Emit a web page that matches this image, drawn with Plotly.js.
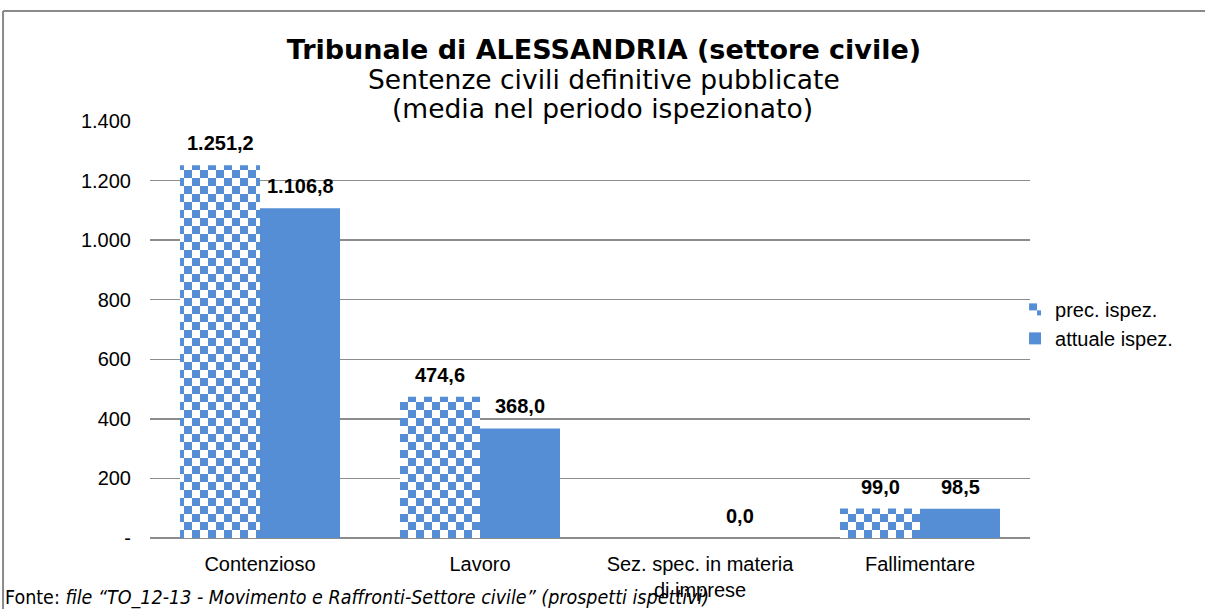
<!DOCTYPE html>
<html>
<head>
<meta charset="utf-8">
<script src="https://cdn.plot.ly/plotly-3.0.1.min.js"></script>
<style>
  html, body { margin: 0; padding: 0; background: #ffffff; }
  #chart { width: 1205px; height: 609px; }
</style>
</head>
<body>
<div id="chart"></div>
<script>
// ---- data ----
const categories = ['Contenzioso', 'Lavoro', 'Sez. spec. in materia<br>di imprese', 'Fallimentare'];
const seriesNames = ['prec. ispez.', 'attuale ispez.'];
const precIspez = [1251.2, 474.6, null, 99.0];
const attualeIspez = [1106.8, 368.0, 0.0, 98.5];
const yTickVals = [0, 200, 400, 600, 800, 1000, 1200, 1400];
const titleLine = 'Tribunale di ALESSANDRIA (settore civile)';
const subtitleLines = ['Sentenze civili definitive pubblicate', '(media nel periodo ispezionato)'];
const sourceText = 'Fonte: <i>file \u201cTO_12-13 - Movimento e Raffronti-Settore civile\u201d (prospetti ispettivi)</i>';

// ---- helpers ----
function fmtIt(v, dec) {
  const s = v.toFixed(dec);
  const parts = s.split('.');
  const intPart = parts[0].replace(/\B(?=(\d{3})+(?!\d))/g, '.');
  return dec > 0 ? intPart + ',' + parts[1] : intPart;
}
const yTickText = yTickVals.map(v => v === 0 ? '-' : fmtIt(v, 0));

const BLUE = '#558ED5';
const GRID = '#8c8c8c';
const ARIAL = 'Liberation Sans, Arial, sans-serif';
const VERDANA = 'DejaVu Sans, Verdana, sans-serif';

const traces = [
  {
    type: 'bar', name: seriesNames[0], x: categories, y: precIspez,
    marker: { color: BLUE, line: { width: 0 } }, hoverinfo: 'none'
  },
  {
    type: 'bar', name: seriesNames[1], x: categories, y: attualeIspez,
    marker: { color: BLUE, line: { width: 0 } }, hoverinfo: 'none'
  }
];

const annotations = [];
[precIspez, attualeIspez].forEach((arr, s) => {
  arr.forEach((v, i) => {
    if (v === null || v === undefined) return;
    annotations.push({
      x: categories[i], y: v, xref: 'x', yref: 'y',
      xshift: s === 0 ? -40 : 40, yshift: 22, yanchor: 'middle', xanchor: 'center',
      text: '<b>' + fmtIt(v, 1) + '</b>', showarrow: false,
      font: { family: ARIAL, size: 20, color: '#000000' }
    });
  });
});
// subtitle lines
annotations.push({
  xref: 'paper', yref: 'paper', x: 0.516, y: 1.1007, xanchor: 'center', yanchor: 'middle',
  text: subtitleLines[0], showarrow: false,
  font: { family: VERDANA, size: 26.5, color: '#000000' }
});
annotations.push({
  xref: 'paper', yref: 'paper', x: 0.514, y: 1.0288, xanchor: 'center', yanchor: 'middle',
  text: subtitleLines[1], showarrow: false,
  font: { family: VERDANA, size: 26.5, color: '#000000' }
});
annotations.push({
  xref: 'paper', yref: 'paper', x: -0.167, y: -0.142, xanchor: 'left', yanchor: 'middle',
  text: sourceText, showarrow: false,
  font: { family: 'DejaVu Sans Condensed, DejaVu Sans, sans-serif', size: 19.5, color: '#000000' }
});

const layout = {
  width: 1205, height: 609,
  paper_bgcolor: '#ffffff', plot_bgcolor: '#ffffff',
  margin: { l: 150, r: 175, t: 121, b: 71, pad: 0 },
  title: {
    text: '<b>' + titleLine + '</b>',
    font: { family: VERDANA, size: 27, color: '#000000' },
    xref: 'container', x: 0.5012, xanchor: 'center',
    yref: 'container', y: 0.9179, yanchor: 'middle'
  },
  barmode: 'group', bargap: 0.2727, bargroupgap: 0,
  xaxis: {
    type: 'category', showgrid: false, showline: false, zeroline: false,
    ticks: '', ticklabelstandoff: 12,
    tickfont: { family: ARIAL, size: 20, color: '#000000' }
  },
  yaxis: {
    range: [0, 1400], tickvals: yTickVals, ticktext: yTickText,
    showgrid: true, gridcolor: GRID, gridwidth: 1.4,
    zeroline: true, zerolinecolor: GRID, zerolinewidth: 1.4,
    showline: false, ticks: '', ticklabelstandoff: 18,
    tickfont: { family: ARIAL, size: 20, color: '#000000' }
  },
  showlegend: true,
  legend: {
    x: 0.983, xanchor: 'left', y: 0.595, yanchor: 'top',
    font: { family: ARIAL, size: 20, color: '#000000' },
    bgcolor: 'rgba(0,0,0,0)', traceorder: 'normal', tracegroupgap: 0
  },
  annotations: annotations,
  shapes: [
    { type: 'line', xref: 'paper', yref: 'paper', x0: -0.167, x1: 1.21, y0: 1.2638, y1: 1.2638,
      line: { color: '#8a8a8a', width: 2 } },
    { type: 'line', xref: 'paper', yref: 'paper', x0: -0.167, x1: -0.167, y0: 1.2638, y1: -0.18,
      line: { color: '#8a8a8a', width: 2 } }
  ]
};

Plotly.newPlot('chart', traces, layout, { staticPlot: true, displayModeBar: false }).then(gd => {
  const svg = gd.querySelector('svg.main-svg');
  const NS = 'http://www.w3.org/2000/svg';
  let defs = svg.querySelector('defs');
  if (!defs) { defs = document.createElementNS(NS, 'defs'); svg.insertBefore(defs, svg.firstChild); }
  const pat = document.createElementNS(NS, 'pattern');
  pat.setAttribute('id', 'checkerPattern');
  pat.setAttribute('patternUnits', 'userSpaceOnUse');
  pat.setAttribute('width', '16');
  pat.setAttribute('height', '16');
  pat.setAttribute('patternTransform', 'translate(2,1)');
  const mk = (x, y, c) => {
    const r = document.createElementNS(NS, 'rect');
    r.setAttribute('x', x); r.setAttribute('y', y);
    r.setAttribute('width', 8); r.setAttribute('height', 8);
    r.setAttribute('fill', c);
    pat.appendChild(r);
  };
  mk(0, 0, BLUE); mk(8, 0, '#ffffff'); mk(0, 8, '#ffffff'); mk(8, 8, BLUE);
  defs.appendChild(pat);
  const barTraces = gd.querySelectorAll('.barlayer .trace.bars');
  if (barTraces[0]) {
    barTraces[0].querySelectorAll('.point path').forEach(p => { p.style.fill = 'url(#checkerPattern)'; });
  }
  const legTraces = gd.querySelectorAll('.legend .traces');
  if (legTraces[0]) {
    legTraces[0].querySelectorAll('.legendpoints path').forEach(p => { p.style.fill = 'url(#checkerPattern)'; });
  }
});
</script>
</body>
</html>
